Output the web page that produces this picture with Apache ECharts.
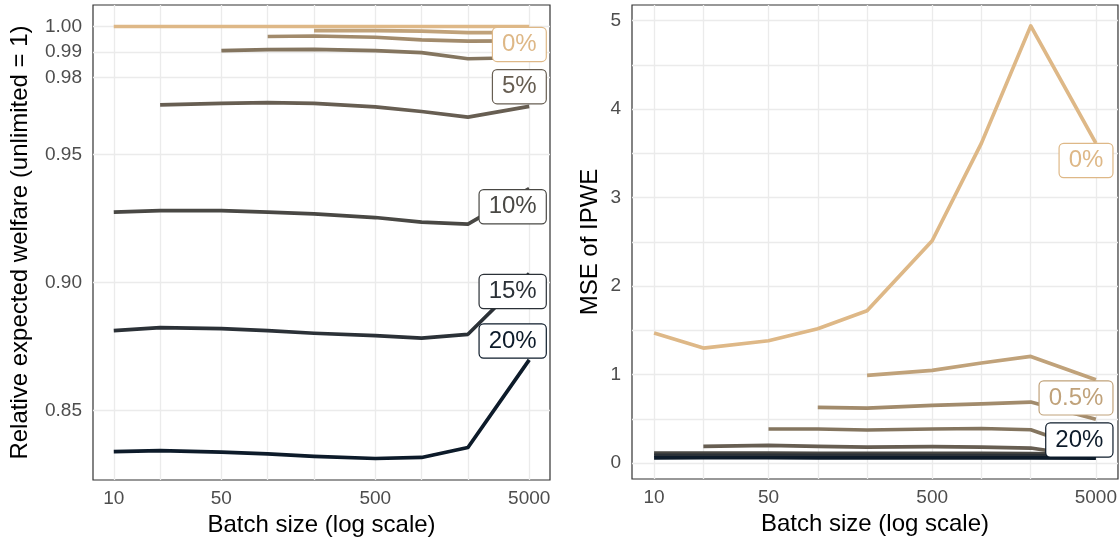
<!DOCTYPE html>
<html>
<head>
<meta charset="utf-8">
<script src="https://cdn.jsdelivr.net/npm/echarts@6/dist/echarts.min.js"></script>
<style>
html,body{margin:0;padding:0;background:#fff;}
#chart{width:1120px;height:544px;}
</style>
</head>
<body>
<div id="chart"></div>
<script>
// ---- data ----
const batchSizes = [10, 20, 50, 100, 200, 500, 1000, 2000, 5000];
const limitNames = ['0%', '0.5%', '1%', '2%', '5%', '10%', '15%', '20%'];
const lineColors = ['#DEB887', '#C0A27A', '#A28B6C', '#84755F', '#675E52', '#494844', '#2B3137', '#0D1B2A'];

// Relative expected welfare (left panel)
const welfare0   = [1.0000, 1.0000, 1.0000, 1.0000, 1.0000, 1.0000, 1.0000, 1.0000, 1.0000];
const welfare05  = [null, null, null, null, 0.9984, 0.9984, 0.9982, 0.9976, 0.9976];
const welfare1   = [null, null, null, 0.9961, 0.9963, 0.9958, 0.9948, 0.9943, 0.9944];
const welfare2   = [null, null, 0.9906, 0.9910, 0.9911, 0.9906, 0.9898, 0.9874, 0.9879];
const welfare5   = [null, 0.9694, 0.9700, 0.9703, 0.9700, 0.9686, 0.9668, 0.9646, 0.9688];
const welfare10  = [0.9275, 0.9281, 0.9281, 0.9275, 0.9268, 0.9254, 0.9236, 0.9228, 0.9367];
const welfare15  = [0.8812, 0.8824, 0.8820, 0.8812, 0.8802, 0.8793, 0.8783, 0.8798, 0.9035];
const welfare20  = [0.8340, 0.8344, 0.8338, 0.8331, 0.8321, 0.8313, 0.8317, 0.8356, 0.8698];

// MSE of IPWE (right panel)
const mse0   = [1.469, 1.299, 1.382, 1.517, 1.721, 2.512, 3.616, 4.941, 3.616];
const mse05  = [null, null, null, null, 0.990, 1.046, 1.130, 1.205, 0.941];
const mse1   = [null, null, null, 0.628, 0.621, 0.651, 0.668, 0.689, 0.495];
const mse2   = [null, null, 0.384, 0.384, 0.373, 0.384, 0.390, 0.376, 0.120];
const mse5   = [null, 0.188, 0.199, 0.188, 0.180, 0.186, 0.180, 0.169, 0.060];
const mse10  = [0.112, 0.112, 0.112, 0.110, 0.110, 0.110, 0.108, 0.106, 0.100];
const mse15  = [0.085, 0.086, 0.086, 0.085, 0.085, 0.084, 0.084, 0.083, 0.080];
const mse20  = [0.058, 0.059, 0.059, 0.058, 0.058, 0.057, 0.057, 0.057, 0.056];

const welfareSeries = [welfare0, welfare05, welfare1, welfare2, welfare5, welfare10, welfare15, welfare20];
const mseSeries = [mse0, mse05, mse1, mse2, mse5, mse10, mse15, mse20];

// axis ticks
const xLabelTicks = [10, 50, 500, 5000];
const leftYTicks = [0.85, 0.90, 0.95, 0.98, 0.99, 1.00];
const rightYTicks = [0, 1, 2, 3, 4, 5];
const rightYGrid = [0, 0.5, 1, 1.5, 2, 2.5, 3, 3.5, 4, 4.5, 5];

// end labels (repelled positions, in data units)
const leftLabelNames = ['0%', '5%', '10%', '15%', '20%'];
const leftLabelY = [0.9928, 0.9763, 0.9294, 0.8963, 0.8770];
const rightLabelNames = ['0%', '0.5%', '20%'];
const rightLabelY = [3.414, 0.730, 0.254];

// ---- chart ----
const FONT = "'Liberation Sans', Arial, sans-serif";
const chart = echarts.init(document.getElementById('chart'), null, {renderer: 'canvas'});

function colorOf(name) { return lineColors[limitNames.indexOf(name)]; }

function xAxisDef(gridIndex) {
  return {
    type: 'log', logBase: 10, gridIndex: gridIndex, min: 7.33, max: 6825,
    name: 'Batch size (log scale)', nameLocation: 'middle', nameGap: 32,
    nameTextStyle: {fontSize: 24, color: '#000', fontFamily: FONT},
    axisLine: {show: false},
    axisTick: {show: false, customValues: batchSizes},
    axisLabel: {customValues: xLabelTicks, fontSize: 19, color: '#4D4D4D', fontFamily: FONT, margin: 9,
                formatter: v => String(Math.round(v))},
    splitLine: {show: true, lineStyle: {color: '#EBEBEB', width: 1.3}},
    minorSplitLine: {show: false}
  };
}

function lineSeries(arrs, xi) {
  return arrs.map((arr, i) => ({
    type: 'line', name: limitNames[i], xAxisIndex: xi, yAxisIndex: xi,
    data: batchSizes.map((b, j) => [b, arr[j]]),
    showSymbol: false, symbol: 'none', silent: true, animation: false,
    connectNulls: false, z: 3 + i,
    lineStyle: {color: lineColors[i], width: 3.7, join: 'round', cap: 'butt'},
    itemStyle: {color: lineColors[i]}
  }));
}

function labelSeries(xi, names, ys) {
  return {
    type: 'scatter', xAxisIndex: xi, yAxisIndex: xi, symbolSize: 1, silent: true, animation: false, z: 20,
    itemStyle: {color: 'transparent', opacity: 1},
    data: names.map((n, i) => ({
      value: [batchSizes[batchSizes.length - 1], ys[i]],
      label: {formatter: n, color: colorOf(n), borderColor: colorOf(n)}
    })),
    label: {show: true, position: [17, 0], align: 'right', verticalAlign: 'middle',
            backgroundColor: '#fff', borderWidth: 1.2, borderRadius: 4, padding: [5, 9, 4, 9],
            fontSize: 24, fontFamily: FONT, opacity: 1}
  };
}

const option = {
  backgroundColor: '#fff',
  animation: false,
  grid: [
    {left: 93, top: 5, width: 457, height: 475, show: true, borderColor: '#333', borderWidth: 1.2, backgroundColor: 'transparent', containLabel: false},
    {left: 632, top: 5, width: 486, height: 474, show: true, borderColor: '#333', borderWidth: 1.2, backgroundColor: 'transparent', containLabel: false}
  ],
  xAxis: [xAxisDef(0), xAxisDef(1)],
  yAxis: [
    {type: 'value', gridIndex: 0, min: 0.8229, max: 1.0084,
     name: 'Relative expected welfare (unlimited = 1)', nameLocation: 'middle', nameGap: 61,
     nameTextStyle: {fontSize: 24, color: '#000', fontFamily: FONT},
     axisLine: {show: false}, axisTick: {show: false, customValues: leftYTicks},
     axisLabel: {customValues: leftYTicks, fontSize: 19, color: '#4D4D4D', fontFamily: FONT, margin: 11,
                 formatter: v => v.toFixed(2)},
     splitLine: {show: true, lineStyle: {color: '#EBEBEB', width: 1.3}}},
    {type: 'value', gridIndex: 1, min: -0.181, max: 5.177,
     name: 'MSE of IPWE', nameLocation: 'middle', nameGap: 30,
     nameTextStyle: {fontSize: 24, color: '#000', fontFamily: FONT},
     axisLine: {show: false}, axisTick: {show: false, customValues: rightYGrid},
     axisLabel: {customValues: rightYTicks, fontSize: 19, color: '#4D4D4D', fontFamily: FONT, margin: 11,
                 formatter: v => String(Math.round(v))},
     splitLine: {show: true, lineStyle: {color: '#EBEBEB', width: 1.3}}}
  ],
  series: [
    ...lineSeries(welfareSeries, 0),
    ...lineSeries(mseSeries, 1),
    labelSeries(0, leftLabelNames, leftLabelY),
    labelSeries(1, rightLabelNames, rightLabelY)
  ]
};
chart.setOption(option);
</script>
</body>
</html>
